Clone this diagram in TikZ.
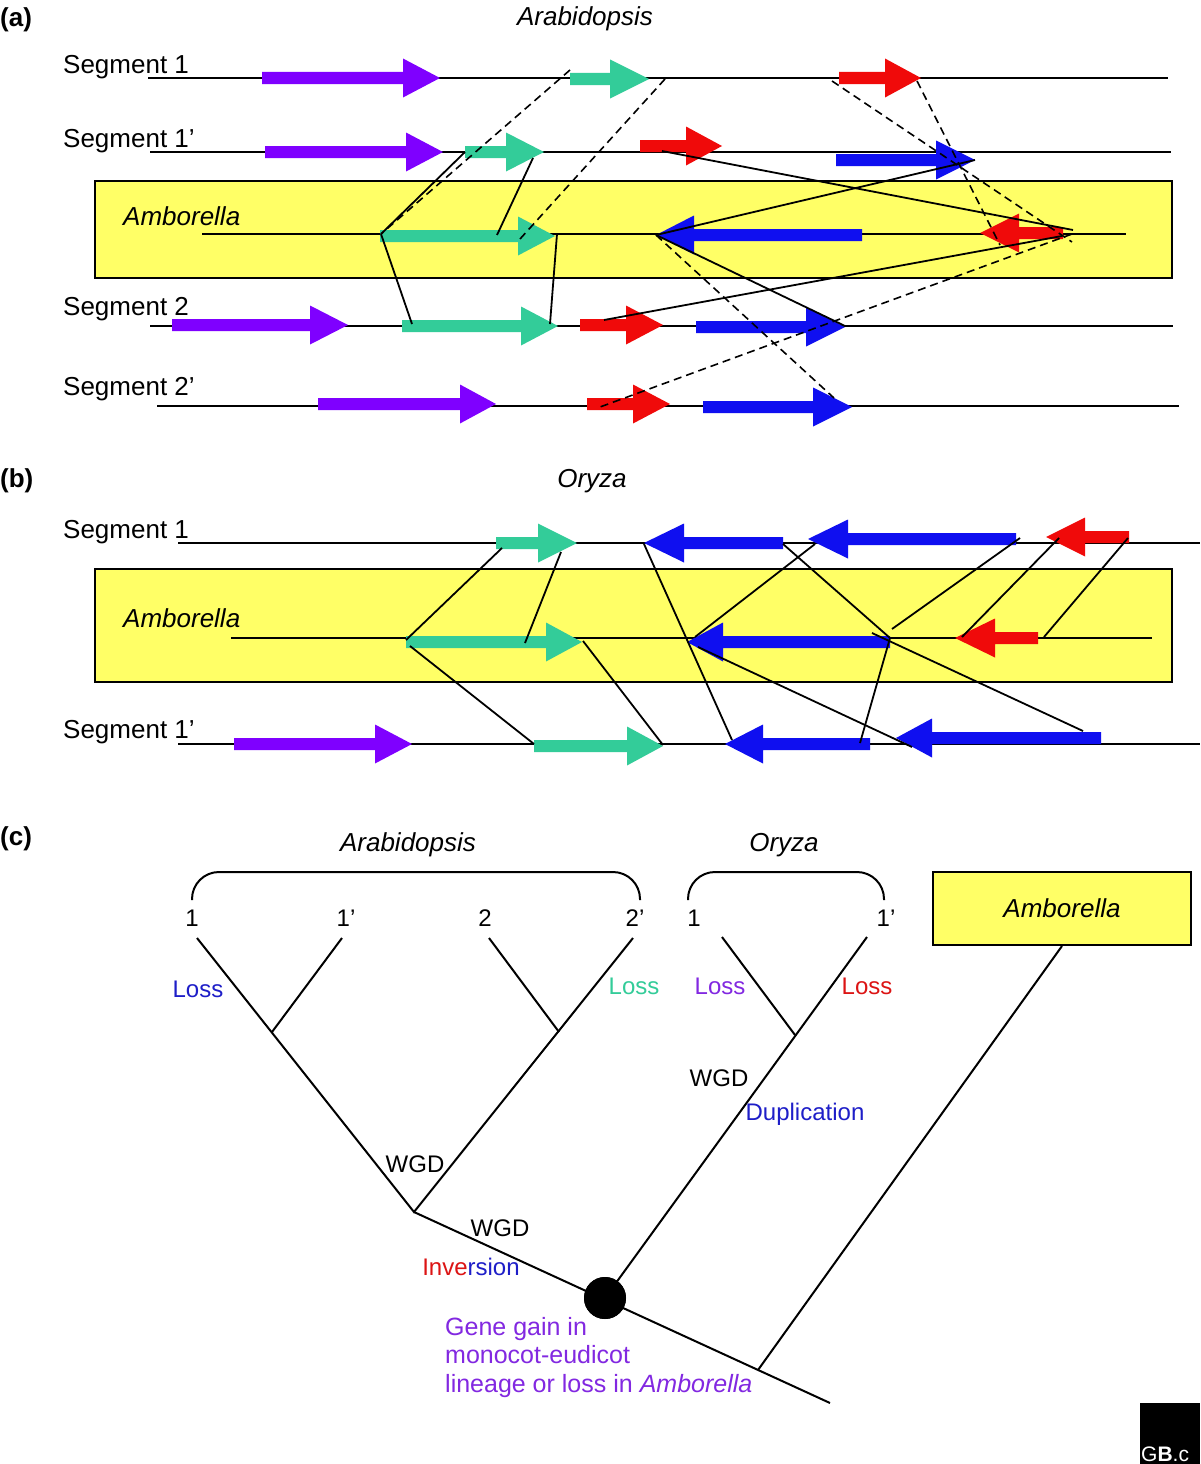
\documentclass[tikz,border=0pt]{standalone}
\usepackage{fontspec}
\setmainfont{Liberation Sans}
\definecolor{gpurple}{RGB}{127,0,255}
\definecolor{ggreen}{RGB}{51,204,153}
\definecolor{gred}{RGB}{240,10,10}
\definecolor{gblue}{RGB}{15,15,240}
\definecolor{gyellow}{RGB}{255,255,102}
\definecolor{tblue}{RGB}{30,30,200}
\definecolor{tgreen}{RGB}{51,204,153}
\definecolor{tpurple}{RGB}{130,40,225}
\definecolor{tred}{RGB}{220,20,20}
% gene arrow: colour, shaft start x, head base x, tip x, centre y
\newcommand\gene[5]{\fill[#1] (#2,#5-6) -- (#3,#5-6) -- (#3,#5-19.5) -- (#4,#5) -- (#3,#5+19.5) -- (#3,#5+6) -- (#2,#5+6) -- cycle;}
\tikzset{
  seg/.style={line width=2pt},
  conn/.style={line width=1.8pt},
  dconn/.style={line width=1.6pt, dash pattern=on 8pt off 5pt},
  lab/.style={font=\fontsize{26}{30}\selectfont, inner sep=0pt, anchor=base west},
  ilab/.style={font=\fontsize{26}{30}\selectfont\itshape, inner sep=0pt, anchor=base west},
  ttl/.style={font=\fontsize{26}{30}\selectfont\itshape, inner sep=0pt, anchor=base},
  pl/.style={font=\fontsize{26}{30}\selectfont\bfseries, inner sep=0pt, anchor=base west},
  ev/.style={font=\fontsize{24}{28}\selectfont, inner sep=0pt},
  ambbox/.style={fill=gyellow, draw=black, line width=2pt, inner sep=0pt},
}
\begin{document}
\begin{tikzpicture}[x=1pt,y=-1pt]
\useasboundingbox (0,0) rectangle (1200,1464);
\fill[white] (0,0) rectangle (1200,1464);

% ================= panel (a) =================
\node[pl] (pa) at (0,27) {(a)};
\node[ttl] (ta) at (585,26) {Arabidopsis};
\node[ambbox, anchor=north west, minimum width=1077pt, minimum height=97pt] (boxa) at (94,180) {};
\node[lab] (s1) at (63,74) {Segment 1};
\node[lab] (s1p) at (63,147) {Segment 1’};
\node[ilab] (amba) at (123,225) {Amborella};
\node[lab] (s2) at (63,315) {Segment 2};
\node[lab] (s2p) at (63,395) {Segment 2’};

\draw[seg] (148,78) -- (1168,78);
\draw[seg] (150,152) -- (1171,152);
\draw[seg] (202,234) -- (1126,234);
\draw[seg] (150,326) -- (1173,326);
\draw[seg] (157,406) -- (1179,406);

\gene{gpurple}{262}{403}{440}{78}
\gene{ggreen}{570}{610}{649}{79}
\gene{gred}{839}{885}{921}{78}
\gene{gpurple}{265}{406}{443}{152}
\gene{ggreen}{465}{506}{544}{152}
\gene{gred}{640}{686}{722}{146}
\gene{gblue}{836}{936}{975}{160}
\gene{ggreen}{380}{518}{555}{236}
\gene{gblue}{862}{694}{656}{235}
\gene{gred}{1063}{1019}{980}{233}
\gene{gpurple}{172}{310}{348}{325}
\gene{ggreen}{402}{521}{558}{326}
\gene{gred}{580}{626}{663}{325}
\gene{gblue}{696}{806}{845}{327}
\gene{gpurple}{318}{460}{496}{404}
\gene{gred}{587}{633}{670}{404}
\gene{gblue}{703}{813}{852}{407}

\coordinate (aAg) at (381,234);
\coordinate (aAgm) at (497,235);
\coordinate (aAgt) at (557,234);
\coordinate (aAb) at (656,235);
\coordinate (aAr) at (1073,230);
\coordinate (aArs) at (1062,236);
\coordinate (a1pg) at (465,152);
\coordinate (a1pgh) at (533,158);
\coordinate (a1pr) at (662,151);
\coordinate (a1pb) at (975,160);
\coordinate (a2g) at (412,324);
\coordinate (a2gt) at (550,324);
\coordinate (a2r) at (604,320);
\coordinate (a2b) at (845,326);
\coordinate (a1g) at (570,70);
\coordinate (a1gt) at (665,79);
\coordinate (a1r) at (832,81);
\coordinate (a1rt) at (917,81);
\coordinate (aAgd) at (520,239);
\coordinate (aArd) at (1072,242);
\coordinate (aArt) at (1000,245);
\coordinate (aArl) at (1072,234);
\coordinate (a2pb) at (834,398);
\coordinate (a2pr) at (600,407);

\draw[conn] (aAg) -- (a1pg);
\draw[conn] (aAg) -- (a2g);
\draw[conn] (a1pgh) -- (aAgm);
\draw[conn] (aAgt) -- (a2gt);
\draw[conn] (a1pr) -- (aAr);
\draw[conn] (aAb) -- (a1pb);
\draw[conn] (aAb) -- (a2b);
\draw[conn] (a2r) -- (aArs);
\draw[dconn] (a1g) -- (aAg);
\draw[dconn] (a1gt) -- (aAgd);
\draw[dconn] (a1r) -- (aArd);
\draw[dconn] (a1rt) -- (aArt);
\draw[dconn] (aAb) -- (a2pb);
\draw[dconn] (aArl) -- (a2pr);

% ================= panel (b) =================
\node[pl] (pb) at (0,487) {(b)};
\node[ttl] (tb) at (592,487) {Oryza};
\node[ambbox, anchor=north west, minimum width=1077pt, minimum height=113pt] (boxb) at (94,568) {};
\node[lab] (b1) at (63,538) {Segment 1};
\node[ilab] (ambb) at (123,627) {Amborella};
\node[lab] (b1p) at (63,738) {Segment 1’};

\draw[seg] (178,543) -- (1200,543);
\draw[seg] (231,638) -- (1152,638);
\draw[seg] (178,744) -- (1200,744);

\gene{ggreen}{496}{538}{577}{543}
\gene{gblue}{783}{684}{644}{543}
\gene{gblue}{1016}{848}{808}{539}
\gene{gred}{1129}{1085}{1046}{537}
\gene{ggreen}{406}{546}{582}{642}
\gene{gblue}{890}{723}{687}{642}
\gene{gred}{1038}{995}{955}{638}
\gene{gpurple}{234}{375}{412}{744}
\gene{ggreen}{534}{627}{663}{746}
\gene{gblue}{870}{763}{725}{744}
\gene{gblue}{1101}{932}{896}{738}

\coordinate (bAg) at (406,640);
\coordinate (bAg2) at (410,646);
\coordinate (bAgm) at (525,643);
\coordinate (bAgt) at (583,641);
\coordinate (bAbt) at (695,637);
\coordinate (bAbt2) at (698,647);
\coordinate (bAbe) at (890,638);
\coordinate (bAbe2) at (892,629);
\coordinate (bAbx) at (872,633);
\coordinate (bArt) at (962,637);
\coordinate (bAre) at (1044,637);
\coordinate (b1g) at (502,548);
\coordinate (b1gh) at (561,552);
\coordinate (b1bt) at (644,544);
\coordinate (b1be) at (783,544);
\coordinate (b1b2t) at (815,544);
\coordinate (b1b2e) at (1020,538);
\coordinate (b1rt) at (1059,538);
\coordinate (b1re) at (1128,538);
\coordinate (b1pg) at (534,744);
\coordinate (b1pgt) at (663,745);
\coordinate (b1pbt) at (732,740);
\coordinate (b1pbe) at (860,743);
\coordinate (b1pb2t) at (912,747);
\coordinate (b1pb2e) at (1083,731);

\draw[conn] (bAg) -- (b1g);
\draw[conn] (bAgm) -- (b1gh);
\draw[conn] (bAg2) -- (b1pg);
\draw[conn] (bAgt) -- (b1pgt);
\draw[conn] (b1bt) -- (b1pbt);
\draw[conn] (b1be) -- (bAbe);
\draw[conn] (b1b2t) -- (bAbt);
\draw[conn] (b1b2e) -- (bAbe2);
\draw[conn] (b1rt) -- (bArt);
\draw[conn] (b1re) -- (bAre);
\draw[conn] (bAbt2) -- (b1pb2t);
\draw[conn] (bAbe) -- (b1pbe);
\draw[conn] (bAbx) -- (b1pb2e);

% ================= panel (c) =================
\node[pl] (pc) at (0,845) {(c)};
\node[ttl] (tca) at (408,851) {Arabidopsis};
\node[ttl] (tco) at (784,851) {Oryza};
\draw[seg, rounded corners=27pt] (192,900) -- (192,872) -- (640,872) -- (640,900);
\draw[seg, rounded corners=27pt] (688,900) -- (688,872) -- (884,872) -- (884,900);

\node[ev] (l1) at (192,918) {1};
\node[ev] (l1p) at (346,918) {1’};
\node[ev] (l2) at (485,918) {2};
\node[ev] (l2p) at (635,918) {2’};
\node[ev] (o1) at (694,918) {1};
\node[ev] (o1p) at (886,918) {1’};
\node[ambbox, minimum width=258pt, minimum height=73pt, font=\fontsize{26}{30}\selectfont\itshape] (ambc) at (1062,908.5) {Amborella};

\coordinate (t1) at (197,938);
\coordinate (t1p) at (342,938);
\coordinate (t2) at (489,938);
\coordinate (t2p) at (633,938);
\coordinate (tn1) at (272,1032);
\coordinate (tn2) at (559,1032);
\coordinate (tna) at (414,1212);
\coordinate (to1) at (722,937);
\coordinate (to1p) at (867,937);
\coordinate (tno) at (795,1035);
\coordinate (tend) at (830,1403);
\coordinate (tamb) at (758,1370);

\draw[seg] (t1) -- (tna) -- (t2p);
\draw[seg] (tn1) -- (t1p);
\draw[seg] (tn2) -- (t2);
\draw[seg] (to1) -- (tno);
\draw[seg] (tna) -- (tend);
\node[circle, fill=black, minimum size=42pt, inner sep=0pt] (gc) at (605,1298) {};
\draw[seg] (to1p) -- (gc.center);
\draw[seg] (ambc.south) -- (tamb);
\fill (gc) circle (21);

\node[ev, text=tblue] (loss1) at (198,989) {Loss};
\node[ev, text=tgreen] (loss2) at (634,986) {Loss};
\node[ev, text=tpurple] (loss3) at (720,986) {Loss};
\node[ev, text=tred] (loss4) at (867,986) {Loss};
\node[ev] (wgd1) at (415,1164) {WGD};
\node[ev] (wgd2) at (719,1078) {WGD};
\node[ev, text=tblue, anchor=base] (dup) at (805,1120) {Duplication};
\node[ev] (wgd3) at (500,1228) {WGD};
\node[ev] (inv) at (471,1267) {\textcolor{tred}{Inve}\textcolor{tblue}{rsion}};
\node[ev, text=tpurple, anchor=base west, font=\fontsize{25}{29}\selectfont] (g1) at (445,1335) {Gene gain in};
\node[ev, text=tpurple, anchor=base west, font=\fontsize{25}{29}\selectfont] (g2) at (445,1363) {monocot-eudicot};
\node[ev, text=tpurple, anchor=base west, font=\fontsize{25}{29}\selectfont] (g3) at (445,1392) {lineage or loss in \textit{Amborella}};

% watermark
\node[fill=black, anchor=north west, minimum width=60pt, minimum height=61pt, inner sep=0pt] (gb) at (1140,1403) {};
\node[anchor=base west, text=white, font=\fontsize{21}{21}\selectfont, inner sep=0pt] (gbt) at (1141,1461) {G\textbf{B}.c};
\end{tikzpicture}
\end{document}
